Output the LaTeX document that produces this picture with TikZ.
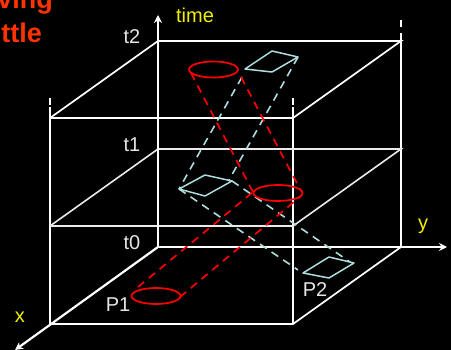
\documentclass[tikz,border=0pt]{standalone}
\usepackage{fontspec}
\setmainfont{Liberation Sans}
\usepackage{xcolor}
\usetikzlibrary{shapes,arrows,arrows.meta,positioning,calc}
\definecolor{titleorange}{RGB}{255, 51, 0}
\definecolor{axisyellow}{RGB}{240, 240, 0}
\definecolor{ringred}{RGB}{255, 0, 0}
\definecolor{boxblue}{RGB}{175, 220, 222}
\definecolor{labelgray}{RGB}{230, 230, 230}
\tikzset{
  frameline/.style={draw=white, line width=1.7pt},
  floorline/.style={draw=white, line width=2.4pt},
  timeline/.style={draw=white!92!black, line width=1.6pt},
  axisline/.style={draw=white, line width=2.2pt, -{Stealth[length=8pt,width=8pt]}},
  stubline/.style={frameline, dash pattern=on 7pt off 2.5pt on 30pt},
  ringpath/.style={draw=ringred, dash pattern=on 8pt off 6pt, line width=1.7pt},
  boxpath/.style={draw=boxblue, dash pattern=on 8pt off 6pt, line width=1.6pt},
  ring/.style={ellipse, draw=ringred, line width=1.7pt, minimum width=49pt, minimum height=16pt, inner sep=0pt},
  patch/.style={draw=boxblue, line width=1.5pt, line join=round},
  timelabel/.style={font=\fontsize{20}{20}\selectfont, text=labelgray, inner sep=0pt, anchor=base},
  axislabel/.style={font=\fontsize{20}{20}\selectfont, text=axisyellow, inner sep=0pt, anchor=base},
  titlelabel/.style={font=\fontsize{27}{27}\selectfont\bfseries, text=titleorange, inner sep=0pt, anchor=base east},
}
\begin{document}
\begin{tikzpicture}[x=1pt, y=-1pt, >=stealth]
    \useasboundingbox (0,0) rectangle (451,350);
    \clip (0,0) rectangle (451,350);
    \fill[black] (0,0) rectangle (451,350);

    % Title, cut by the page edge
    \node[titlelabel] (titleone) at (53, 9) {ving};
    \node[titlelabel] (titletwo) at (42, 43) {ttle};

    % Corners of the box
    \coordinate (bl0) at (158, 247);
    \coordinate (bl1) at (158, 149);
    \coordinate (bl2) at (158, 41);
    \coordinate (br0) at (401, 247);
    \coordinate (br1) at (401, 149);
    \coordinate (br2) at (401, 41);
    \coordinate (fl0) at (50, 324);
    \coordinate (fl1) at (50, 226);
    \coordinate (fl2) at (50, 118);
    \coordinate (fr0) at (293, 324);
    \coordinate (fr1) at (293, 226);
    \coordinate (fr2) at (293, 118);

    % Axis ends and tick stubs
    \coordinate (timeend) at (158, 15);
    \coordinate (yend) at (447, 247);
    \coordinate (xend) at (15, 350);
    \coordinate (flstub) at (50, 98);
    \coordinate (frstub) at (293, 98);
    \coordinate (brstub) at (401, 20);

    % Frame
    \draw[frameline] (fl0) -- (fl2);
    \draw[frameline] (fr0) -- (fr2);
    \draw[frameline] (br0) -- (br2);
    \draw[stubline] (flstub) -- (fl2);
    \draw[stubline] (frstub) -- (fr2);
    \draw[frameline, dash pattern=on 7pt off 6pt on 30pt] (brstub) -- (br2);
    \draw[frameline] (fl0) -- (fr0) -- (br0);
    \draw[frameline] (fl2) -- (fr2) -- (br2) -- (bl2) -- (fl2);
    \draw[timeline] (fl1) -- (fr1) -- (br1) -- (bl1) -- (fl1);
    \draw[floorline] (bl0) -- (br0);

    % Axes
    \draw[axisline] (bl0) -- (timeend);
    \draw[axisline] (br0) -- (yend);
    \draw[axisline] (bl0) -- (xend);

    % Axis and level labels
    \node[axislabel] (timelbl) at (195, 23) {time};
    \node[axislabel] (ylbl) at (423, 230) {y};
    \node[axislabel] (xlbl) at (20, 323) {x};
    \node[timelabel] (tzero) at (132, 250) {t0};
    \node[timelabel] (tone) at (132, 152) {t1};
    \node[timelabel] (ttwo) at (132, 44) {t2};
    \node[timelabel] (pone) at (118, 312) {P1};
    \node[timelabel] (ptwo) at (315, 297) {P2};

    % Moving patch P2
    \coordinate (pa) at (245, 69);
    \coordinate (pb) at (272, 51);
    \coordinate (pc) at (298, 57);
    \coordinate (pd) at (272, 72);
    \coordinate (qa) at (179, 189);
    \coordinate (qb) at (205, 175);
    \coordinate (qc) at (232, 181);
    \coordinate (qd) at (205, 196);
    \coordinate (ra) at (303, 273);
    \coordinate (rb) at (329, 257);
    \coordinate (rc) at (354, 263);
    \coordinate (rd) at (329, 278);
    \coordinate (pfoot) at (242, 77);
    \coordinate (qfoot) at (229, 180);
    \coordinate (rfoot) at (298, 270);
    \coordinate (rtip) at (350, 262);
    \draw[boxpath] (pfoot) -- (qa);
    \draw[boxpath] (pc) -- (qfoot);
    \draw[boxpath] (qa) -- (rfoot);
    \draw[boxpath] (qc) -- (rtip);
    \draw[patch] (pa) -- (pb) -- (pc) -- (pd) -- cycle;
    \draw[patch] (qa) -- (qb) -- (qc) -- (qd) -- cycle;
    \draw[patch] (ra) -- (rb) -- (rc) -- (rd) -- cycle;

    % Moving ring P1
    \node[ring] (ringtop) at (213.5, 69.5) {};
    \node[ring] (ringmid) at (278, 193) {};
    \node[ring] (ringlow) at (156, 296) {};
    \coordinate (topleft) at (191, 73);
    \coordinate (topright) at (241, 77);
    \coordinate (midleft) at (253, 192);
    \coordinate (midright) at (301, 191);
    \coordinate (midlow) at (301, 196);
    \coordinate (lowleft) at (138, 287);
    \coordinate (lowright) at (180, 297);
    \draw[ringpath] (topleft) -- (midleft);
    \draw[ringpath] (topright) -- (midright);
    \draw[ringpath] (lowleft) -- (midleft);
    \draw[ringpath] (lowright) -- (midlow);
\end{tikzpicture}
\end{document}
